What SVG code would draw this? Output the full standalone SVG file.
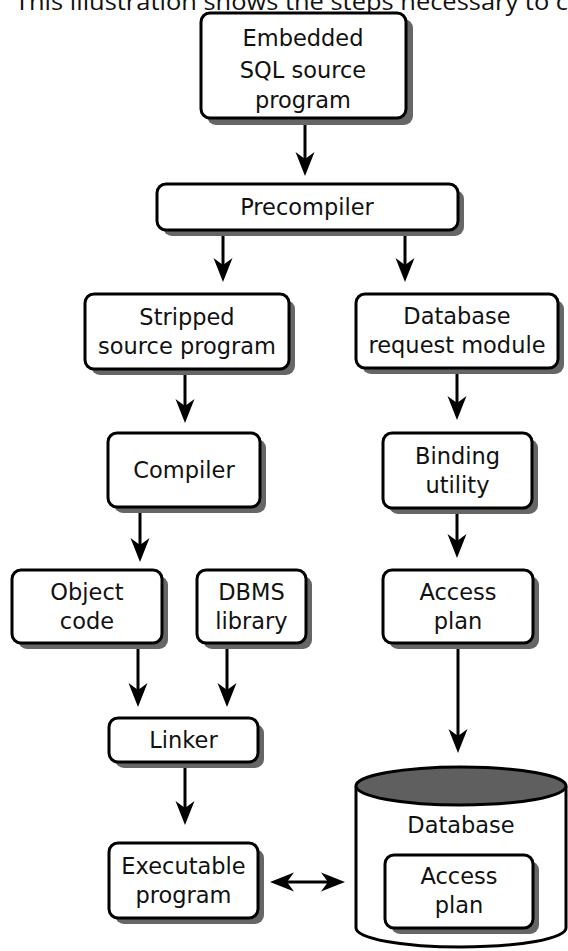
<svg xmlns="http://www.w3.org/2000/svg" width="568" height="951" viewBox="0 0 568 951">
<style>
.box{fill:#fff;stroke:#000;stroke-width:3}
.sh{fill:#666}
.t{font-family:"DejaVu Sans",Verdana,sans-serif;font-size:22.5px;fill:#111;text-anchor:middle}
.cap{font-family:"Open Sans","Noto Sans",sans-serif;font-size:23.5px;fill:#111}
.c{stroke:#000;stroke-width:3;fill:none}
</style>
<defs>
<marker id="ah" viewBox="-25 -11 27 22" refX="-10" refY="0" markerWidth="27" markerHeight="22" markerUnits="userSpaceOnUse" orient="auto-start-reverse">
<path d="M0,0 L-24,-9.5 L-17,0 L-24,9.5 Z" fill="#000"/>
</marker>
</defs>
<rect width="568" height="951" fill="#fff"/>
<text class="cap" x="15" y="10" textLength="553" lengthAdjust="spacingAndGlyphs">This illustration shows the steps necessary to c</text>

<g id="connectors">
<line class="c" x1="305" y1="120" x2="305" y2="166" marker-end="url(#ah)"/>
<line class="c" x1="223" y1="231" x2="223" y2="272" marker-end="url(#ah)"/>
<line class="c" x1="405" y1="231" x2="405" y2="272" marker-end="url(#ah)"/>
<line class="c" x1="185" y1="370" x2="185" y2="413" marker-end="url(#ah)"/>
<line class="c" x1="457" y1="369" x2="457" y2="410" marker-end="url(#ah)"/>
<line class="c" x1="140" y1="508" x2="140" y2="552" marker-end="url(#ah)"/>
<line class="c" x1="457" y1="509" x2="457" y2="548" marker-end="url(#ah)"/>
<line class="c" x1="138" y1="644" x2="138" y2="697" marker-end="url(#ah)"/>
<line class="c" x1="227" y1="644" x2="227" y2="697" marker-end="url(#ah)"/>
<line class="c" x1="458" y1="644" x2="458" y2="743" marker-end="url(#ah)"/>
<line class="c" x1="185" y1="763" x2="185" y2="815" marker-end="url(#ah)"/>
<line class="c" x1="280" y1="882" x2="335" y2="882" marker-start="url(#ah)" marker-end="url(#ah)"/>
</g>

<g id="embedded">
<rect class="sh" x="207" y="19" width="206" height="106" rx="9"/>
<rect class="box" x="201" y="13" width="205" height="105" rx="9"/>
<text class="t" x="303" y="46">Embedded</text>
<text class="t" x="303" y="78">SQL source</text>
<text class="t" x="303" y="108">program</text>
</g>

<g id="precompiler">
<rect class="sh" x="163" y="190" width="301" height="46" rx="9"/>
<rect class="box" x="157" y="184" width="301" height="46" rx="9"/>
<text class="t" x="307" y="215">Precompiler</text>
</g>

<g id="stripped">
<rect class="sh" x="91" y="300" width="204" height="75" rx="9"/>
<rect class="box" x="85" y="294" width="204" height="75" rx="9"/>
<text class="t" x="187" y="325">Stripped</text>
<text class="t" x="187" y="354">source program</text>
</g>

<g id="dbrm">
<rect class="sh" x="362" y="300" width="202" height="74" rx="9"/>
<rect class="box" x="356" y="294" width="202" height="74" rx="9"/>
<text class="t" x="457" y="324">Database</text>
<text class="t" x="457" y="353">request module</text>
</g>

<g id="compiler">
<rect class="sh" x="114" y="439" width="152" height="74" rx="9"/>
<rect class="box" x="108" y="433" width="152" height="74" rx="9"/>
<text class="t" x="184" y="478">Compiler</text>
</g>

<g id="binding">
<rect class="sh" x="389" y="439" width="149" height="75" rx="9"/>
<rect class="box" x="383" y="433" width="149" height="75" rx="9"/>
<text class="t" x="457.5" y="464">Binding</text>
<text class="t" x="457.5" y="493">utility</text>
</g>

<g id="objectcode">
<rect class="sh" x="18" y="576" width="150" height="73" rx="9"/>
<rect class="box" x="12" y="570" width="150" height="73" rx="9"/>
<text class="t" x="87" y="600">Object</text>
<text class="t" x="87" y="629">code</text>
</g>

<g id="dbms">
<rect class="sh" x="203" y="576" width="109" height="73" rx="9"/>
<rect class="box" x="197" y="570" width="109" height="73" rx="9"/>
<text class="t" x="251.5" y="600">DBMS</text>
<text class="t" x="251.5" y="629">library</text>
</g>

<g id="accessplan">
<rect class="sh" x="389" y="576" width="150" height="73" rx="9"/>
<rect class="box" x="383" y="570" width="150" height="73" rx="9"/>
<text class="t" x="458" y="600">Access</text>
<text class="t" x="458" y="629">plan</text>
</g>

<g id="linker">
<rect class="sh" x="115" y="724" width="149" height="44" rx="9"/>
<rect class="box" x="109" y="718" width="149" height="44" rx="9"/>
<text class="t" x="183.5" y="748">Linker</text>
</g>

<g id="executable">
<rect class="sh" x="115" y="849" width="149" height="75" rx="9"/>
<rect class="box" x="109" y="843" width="149" height="75" rx="9"/>
<text class="t" x="183.5" y="874">Executable</text>
<text class="t" x="183.5" y="903">program</text>
</g>

<g id="database">
<path d="M356,786 L356,928 A105,19 0 0 0 566,928 L566,786" fill="#fff" stroke="#000" stroke-width="3"/>
<ellipse cx="461" cy="786" rx="105" ry="19" fill="#5f5f5f" stroke="#000" stroke-width="3"/>
<text class="t" x="461" y="833">Database</text>
<g id="db-accessplan">
<rect class="sh" x="391" y="861" width="148" height="73" rx="9"/>
<rect class="box" x="385" y="855" width="148" height="73" rx="9"/>
<text class="t" x="459" y="884">Access</text>
<text class="t" x="459" y="913">plan</text>
</g>
</g>
</svg>
